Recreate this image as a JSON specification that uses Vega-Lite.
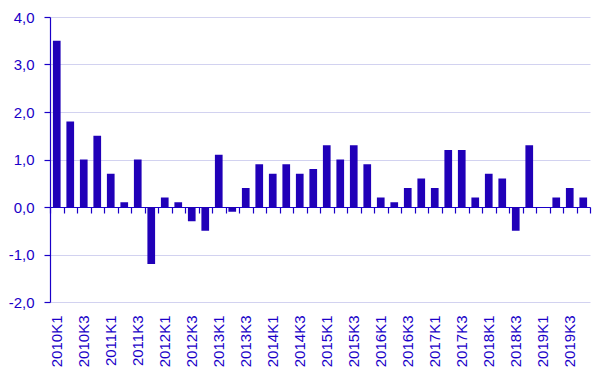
{
  "$schema": "https://vega.github.io/schema/vega-lite/v6.json",
  "width": 540,
  "height": 285,
  "autosize": {"type": "none"},
  "padding": {"left": 50, "top": 17, "right": 15, "bottom": 76},
  "config": {
    "view": {"stroke": null},
    "font": "Liberation Sans",
    "axis": {"labelFont": "Liberation Sans", "labelColor": "#1a00c8", "domainColor": "#1a00c8", "tickColor": "#1a00c8"}
  },
  "data": {
    "values": [
      {"q": "2010K1", "v": 3.5}, {"q": "2010K2", "v": 1.8}, {"q": "2010K3", "v": 1.0}, {"q": "2010K4", "v": 1.5},
      {"q": "2011K1", "v": 0.7}, {"q": "2011K2", "v": 0.1}, {"q": "2011K3", "v": 1.0}, {"q": "2011K4", "v": -1.2},
      {"q": "2012K1", "v": 0.2}, {"q": "2012K2", "v": 0.1}, {"q": "2012K3", "v": -0.3}, {"q": "2012K4", "v": -0.5},
      {"q": "2013K1", "v": 1.1}, {"q": "2013K2", "v": -0.1}, {"q": "2013K3", "v": 0.4}, {"q": "2013K4", "v": 0.9},
      {"q": "2014K1", "v": 0.7}, {"q": "2014K2", "v": 0.9}, {"q": "2014K3", "v": 0.7}, {"q": "2014K4", "v": 0.8},
      {"q": "2015K1", "v": 1.3}, {"q": "2015K2", "v": 1.0}, {"q": "2015K3", "v": 1.3}, {"q": "2015K4", "v": 0.9},
      {"q": "2016K1", "v": 0.2}, {"q": "2016K2", "v": 0.1}, {"q": "2016K3", "v": 0.4}, {"q": "2016K4", "v": 0.6},
      {"q": "2017K1", "v": 0.4}, {"q": "2017K2", "v": 1.2}, {"q": "2017K3", "v": 1.2}, {"q": "2017K4", "v": 0.2},
      {"q": "2018K1", "v": 0.7}, {"q": "2018K2", "v": 0.6}, {"q": "2018K3", "v": -0.5}, {"q": "2018K4", "v": 1.3},
      {"q": "2019K1", "v": 0.0}, {"q": "2019K2", "v": 0.2}, {"q": "2019K3", "v": 0.4}, {"q": "2019K4", "v": 0.2}
    ]
  },
  "resolve": {"axis": {"x": "independent"}},
  "layer": [
    {
      "mark": {"type": "bar", "color": "#2000b8", "width": {"band": 0.57}},
      "encoding": {
        "x": {
          "field": "q", "type": "ordinal", "sort": null,
          "scale": {"paddingInner": 0, "paddingOuter": 0},
          "axis": {
            "title": null, "domain": false, "ticks": false, "grid": false,
            "labelAngle": -90, "labelAlign": "right", "labelBaseline": "middle",
            "labelFontSize": 15, "labelPadding": 13,
            "labelExpr": "indexof(datum.value, 'K2') >= 0 || indexof(datum.value, 'K4') >= 0 ? '' : datum.value"
          }
        },
        "y": {
          "field": "v", "type": "quantitative",
          "scale": {"domain": [-2, 4], "nice": false, "zero": false},
          "axis": {
            "title": null, "values": [-2, -1, 0, 1, 2, 3, 4],
            "grid": true, "gridColor": "#d2d2f0", "gridWidth": 1,
            "domain": true, "domainWidth": 1.2, "tickSize": 6, "tickWidth": 1.2,
            "labelFontSize": 15, "labelPadding": 10,
            "labelExpr": "replace(replace(format(datum.value, '.1f'), '.', ','), '\u2212', '-')"
          }
        }
      }
    },
    {
      "mark": {"type": "bar", "opacity": 0, "width": {"band": 0.57}},
      "encoding": {
        "x": {
          "field": "q", "type": "ordinal", "sort": null,
          "axis": {
            "orient": "bottom",
            "title": null, "labels": false, "grid": false,
            "domain": true, "domainWidth": 1.2, "ticks": true, "tickSize": 6, "tickWidth": 1.2,
            "tickBand": "extent", "offset": -95
          }
        },
        "y": {"field": "v", "type": "quantitative"}
      }
    }
  ]
}
